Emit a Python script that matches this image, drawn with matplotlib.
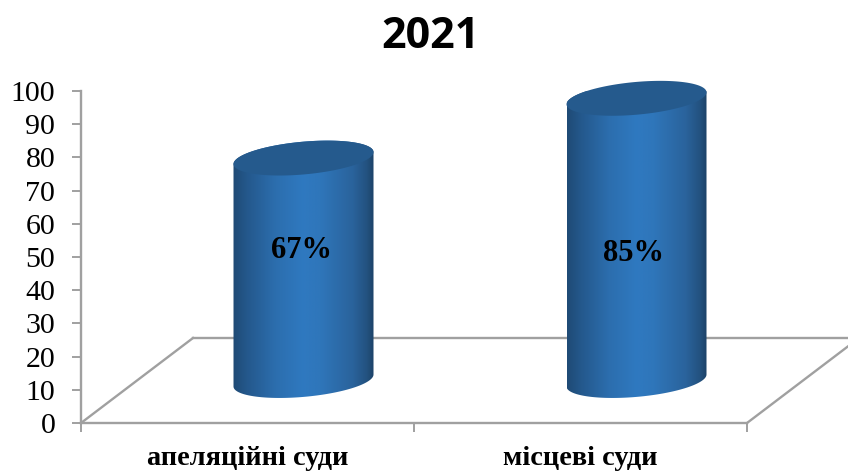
import matplotlib
matplotlib.use("Agg")
import matplotlib.pyplot as plt
import numpy as np
from matplotlib.colors import LinearSegmentedColormap
from matplotlib.patches import Polygon

categories = ["апеляційні суди", "місцеві суди"]
values = [67, 85]
value_labels = ["67%", "85%"]
y_ticks = list(range(0, 101, 10))

W, H = 848, 471
GRAY = "#a0a0a0"
SERIF = "Liberation Serif"

# axes box in pixels of the reference
fig = plt.figure(figsize=(W / 100, H / 100), dpi=100, facecolor="white")
ax = fig.add_axes([81 / W, 1 - 423 / H, (747 - 81) / W, (423 - 91) / H])
ax.set_xlim(0, 2)
ax.set_ylim(0, 100)
ax.patch.set_visible(False)

# ── 3D look: depth of the floor, cylinder shape ───────────────────────────────
DEPTH_X, DEPTH_Y = 112 / 333, 85 / 3.32
HALF_W = 70 / 333
MINOR = 4.94
TILT = 1.8
BASE = 12.8
LABEL_Y = [52.1, 51.2]
LABEL_DX = [-2 / 333, -3 / 333]

cmap = LinearSegmentedColormap.from_list("cyl", [
    (0.00, "#1f4a75"), (0.10, "#24588c"), (0.30, "#2c6eae"), (0.50, "#2f79c0"),
    (0.62, "#2f76ba"), (0.85, "#2a639c"), (0.95, "#235280"), (1.00, "#1c4368"),
])

# floor
ax.plot([0, DEPTH_X], [0, DEPTH_Y], color=GRAY, lw=1.7, clip_on=False, zorder=1)
ax.plot([DEPTH_X, 2 + DEPTH_X], [DEPTH_Y, DEPTH_Y], color=GRAY, lw=1.7, clip_on=False, zorder=1)
ax.plot([2, 2 + DEPTH_X], [0, DEPTH_Y], color=GRAY, lw=1.7, clip_on=False, zorder=1)

t = np.linspace(0, 2 * np.pi, 200)
for i, v in enumerate(values):
    cx = i + 0.5 + DEPTH_X / 2
    top = BASE + v
    xs = cx + HALF_W * np.cos(t)
    dy = TILT * np.cos(t) + MINOR * np.sin(t)

    # body: upper half of the top rim, lower half of the bottom rim
    upper = t <= np.pi
    lower = t >= np.pi
    body = np.vstack([
        np.column_stack([xs[upper], top + dy[upper]]),
        np.column_stack([xs[lower], BASE + dy[lower]]),
    ])
    patch = Polygon(body, closed=True, transform=ax.transData, fc="none", ec="none", clip_on=False)
    ax.add_patch(patch)
    grad = np.linspace(0, 1, 256).reshape(1, -1)
    im = ax.imshow(grad, cmap=cmap, aspect="auto", zorder=2, interpolation="bilinear",
                   extent=[cx - HALF_W, cx + HALF_W, BASE - 8, top + 8])
    im.set_clip_path(patch)

    ax.fill(xs, top + dy, color="#255a8d", lw=0, zorder=3, clip_on=False)
    ax.text(cx + LABEL_DX[i], LABEL_Y[i], value_labels[i], ha="center", va="center",
            fontsize=22, fontweight="bold", family=SERIF, zorder=4)

ax.set_xlim(0, 2)
ax.set_ylim(0, 100)

# ── Axes ──────────────────────────────────────────────────────────────────────
for side in ("top", "right"):
    ax.spines[side].set_visible(False)
for side in ("left", "bottom"):
    ax.spines[side].set_color(GRAY)
    ax.spines[side].set_linewidth(1.7)

ax.set_yticks(y_ticks)
ax.set_yticklabels([str(y) for y in y_ticks], fontsize=21.5, family=SERIF)
ax.tick_params(axis="y", length=6.5, width=1.4, color=GRAY, pad=12)
ax.set_xticks([0, 1, 2])
ax.set_xticklabels(["", "", ""])
ax.tick_params(axis="x", which="major", length=6.5, width=1.4, color=GRAY)
ax.set_xticks([0.5, 1.5], minor=True)
ax.set_xticklabels(categories, minor=True, fontsize=20.4, fontweight="bold", family=SERIF)
ax.tick_params(axis="x", which="minor", length=0, pad=16.5)

fig.text(430 / W, 1 - 36 / H, "2021", ha="center", va="center",
         fontsize=31, fontweight="bold", family="Open Sans")

fig.savefig("out.png", dpi=100, facecolor="white")
